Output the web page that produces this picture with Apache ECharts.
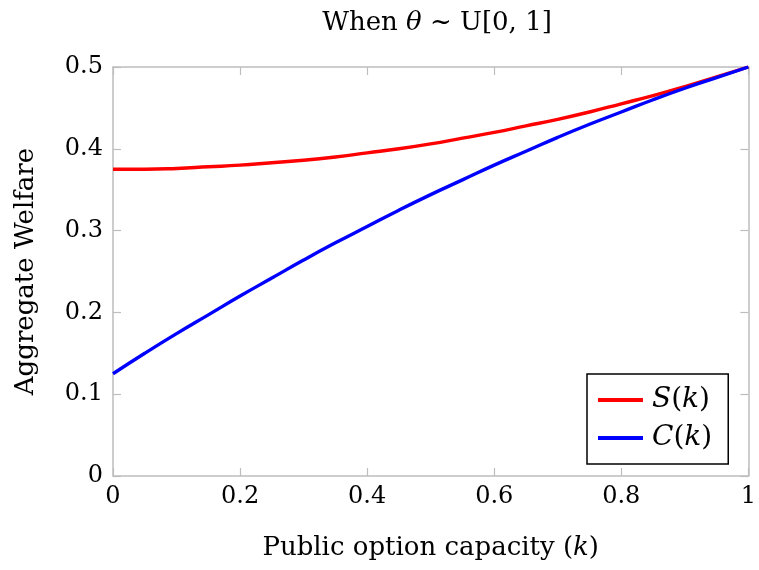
<!DOCTYPE html>
<html>
<head>
<meta charset="utf-8">
<script src="https://cdn.jsdelivr.net/npm/echarts@6/dist/echarts.min.js"></script>
<style>html,body{margin:0;padding:0;background:#fff}#c{width:759px;height:570px}</style>
</head>
<body>
<div id="c"></div>
<script>
const kValues = [0,0.05,0.1,0.15,0.2,0.25,0.3,0.35,0.4,0.45,0.5,0.55,0.6,0.65,0.7,0.75,0.8,0.85,0.9,0.95,1];
const sValues = [0.375,0.375,0.376,0.378,0.380,0.383,0.386,0.390,0.395,0.400,0.406,0.413,0.420,0.428,0.436,0.445,0.455,0.465,0.476,0.488,0.500];
const cValues = [0.125,0.150,0.174,0.197,0.220,0.242,0.264,0.285,0.305,0.325,0.344,0.362,0.380,0.397,0.414,0.430,0.445,0.460,0.474,0.487,0.500];
const xTicks = [0,0.2,0.4,0.6,0.8,1];
const yTicks = [0,0.1,0.2,0.3,0.4,0.5];

const FONT = 'DejaVu Serif';
const FS = 24;
const NS = 26;
const frame = '#bdbdbd';
const chart = echarts.init(document.getElementById('c'));
const fmt = v => (v === 0 ? '0' : (v === 1 ? '1' : String(+v.toFixed(1))));
const pair = arr => kValues.map((k,i)=>[k, arr[i]]);
const tick = {show:true,inside:true,length:8,lineStyle:{color:frame,width:1.2}};
const line = {show:true,onZero:false,lineStyle:{color:frame,width:1.5}};
chart.setOption({
  animation:false,
  textStyle:{fontFamily:FONT},
  title:{text:'When {i|θ} ~ U[0, 1]', left:432, top:5, textAlign:'center',
    textStyle:{fontFamily:FONT,fontSize:NS,fontWeight:'normal',color:'#000',
      rich:{i:{fontFamily:FONT,fontStyle:'italic',fontSize:NS}}}},
  grid:{left:113,right:9,top:67,bottom:94},
  xAxis:[{type:'value',min:0,max:1,interval:0.2,position:'bottom',
    name:'Public option capacity ({i|k})',nameLocation:'middle',nameGap:59,
    nameTextStyle:{fontFamily:FONT,fontSize:NS,color:'#000',rich:{i:{fontFamily:FONT,fontStyle:'italic',fontSize:NS}}},
    axisLine:line, axisTick:tick,
    axisLabel:{fontFamily:FONT,fontSize:FS,color:'#000',margin:9,formatter:fmt},
    splitLine:{show:false}},
   {type:'value',min:0,max:1,interval:0.2,position:'top',
    axisLine:line, axisTick:tick,
    axisLabel:{show:false},splitLine:{show:false}}],
  yAxis:[{type:'value',min:0,max:0.5,interval:0.1,position:'left',
    name:'Aggregate Welfare',nameLocation:'middle',nameGap:74,nameRotate:90,
    nameTextStyle:{fontFamily:FONT,fontSize:NS,color:'#000'},
    axisLine:line, axisTick:tick,
    axisLabel:{fontFamily:FONT,fontSize:FS,color:'#000',margin:10,formatter:fmt},
    splitLine:{show:false}},
   {type:'value',min:0,max:0.5,interval:0.1,position:'right',
    axisLine:line, axisTick:tick,
    axisLabel:{show:false},splitLine:{show:false}}],
  legend:{orient:'vertical',left:587,top:374,padding:[12,16,12,11],itemGap:10,
    itemWidth:45,itemHeight:4,icon:'rect',
    borderColor:'#000',borderWidth:1.5,backgroundColor:'#fff',
    data:['S','C'],
    formatter:n=>'{i|'+n+'}({i|k})',
    textStyle:{fontFamily:FONT,fontSize:28,color:'#000',padding:[0,0,0,4],
      rich:{i:{fontFamily:FONT,fontStyle:'italic',fontSize:28}}}},
  series:[
    {name:'S',type:'line',data:pair(sValues),smooth:true,showSymbol:false,
     lineStyle:{color:'#ff0000',width:3.4},itemStyle:{color:'#ff0000'}},
    {name:'C',type:'line',data:pair(cValues),smooth:true,showSymbol:false,
     lineStyle:{color:'#0000ff',width:3.4},itemStyle:{color:'#0000ff'}}
  ]
});
</script>
</body>
</html>
